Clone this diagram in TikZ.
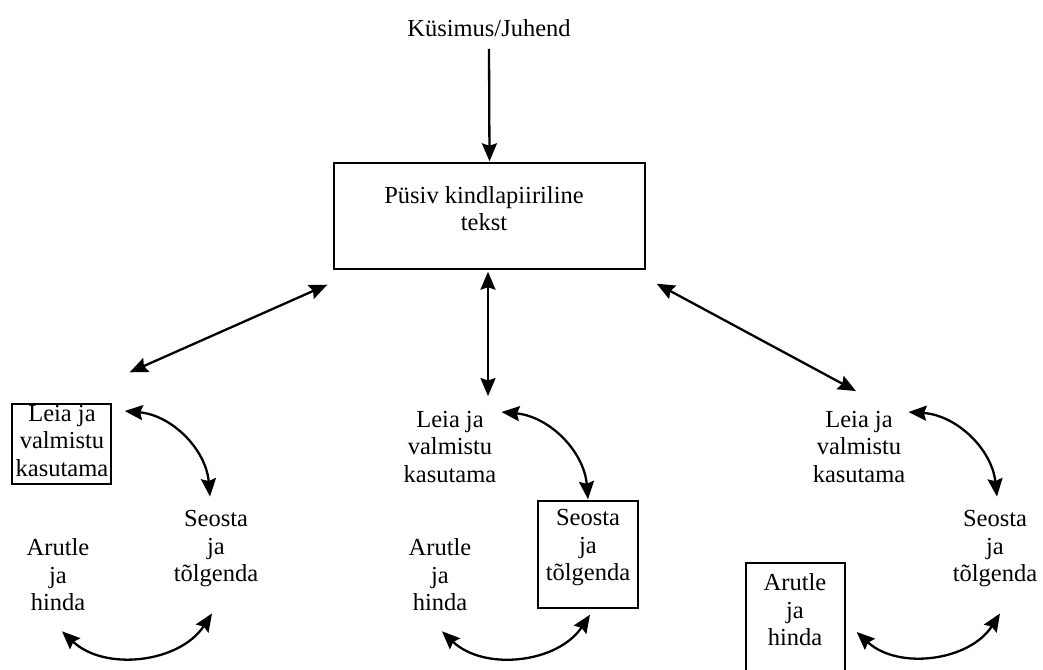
\documentclass[tikz,border=0pt]{standalone}
\usepackage{fontspec}
\setmainfont{Liberation Serif}
\usetikzlibrary{arrows.meta,calc}
\begin{document}
\begin{tikzpicture}[x=1pt,y=-1pt,
  txt/.style={align=center,inner sep=0pt,font=\fontsize{24.5}{27.5}\selectfont},
  frame/.style={draw,line width=1.4pt,inner sep=0pt},
  tip/.tip={Stealth[length=18pt,width=15pt,inset=2.5pt]},
  arr/.style={line width=2.3pt,tip-tip},
  arrone/.style={line width=2.3pt,-tip}]
\useasboundingbox (0,0) rectangle (1043,669);
\clip (0,0) rectangle (1043,669);
% top
\node[txt] (q) at (489,28) {Küsimus/Juhend};
\node[frame,minimum width=311pt,minimum height=106pt] (main) at (489.5,216) {};
\node[txt] (maintxt) at (484,208.5) {Püsiv kindlapiiriline\\tekst};
% left group
\node[frame,minimum width=99pt,minimum height=80pt] (lbox) at (61.5,444) {};
\node[txt] (lleia) at (62,441) {Leia ja\\valmistu\\kasutama};
\node[txt] (lseo) at (216,549) {Seosta\\ja\\tõlgenda};
\node[txt] (laru) at (58,575) {Arutle\\ja\\hinda};
% middle group
\node[txt] (mleia) at (450,447) {Leia ja\\valmistu\\kasutama};
\node[frame,minimum width=100pt,minimum height=107pt] (mbox) at (588,554.5) {};
\node[txt] (mseo) at (588,548) {Seosta\\ja\\tõlgenda};
\node[txt] (maru) at (440,575) {Arutle\\ja\\hinda};
% right group
\node[txt] (rleia) at (859,447) {Leia ja\\valmistu\\kasutama};
\node[txt] (rseo) at (995,549) {Seosta\\ja\\tõlgenda};
\node[frame,minimum width=99pt,minimum height=120pt] (rbox) at (795.5,623) {};
\node[txt] (raru) at (795,610) {Arutle\\ja\\hinda};
% top connectors
\draw[arrone] ($(q.south)+(0,12)$) -- ($(main.north)+(0,-1)$);
\draw[arr] ($(lbox.north east)+(18,-31)$) -- ($(main.south west)+(-6,15)$);
\draw[arr] ($(main.south)+(-1.5,2)$) -- ($(mleia.north)+(38,-15)$);
\draw[arr] ($(main.south east)+(11,14)$) -- ($(rleia.north)+(-3,-20)$);
% cycles
\draw[arr] ($(lbox.east)+(13,-33)$) to[bend left=40] ($(lseo.north)+(-6,-14)$);
\draw[arr] ($(laru.south)+(4,20)$) to[bend right=50] ($(lseo.south)+(-4,26)$);
\draw[arr] ($(mleia.east)+(5,-35)$) to[bend left=40] ($(mbox.north)+(0,-1)$);
\draw[arr] ($(maru.south)+(2,20)$) to[bend right=50] ($(mbox.south)+(2,6)$);
\draw[arr] ($(rleia.east)+(3,-35)$) to[bend left=40] ($(rseo.north)+(2,-14)$);
\draw[arr] ($(rbox.east)+(11,9)$) to[bend right=50] ($(rseo.south)+(5,26)$);
\end{tikzpicture}
\end{document}
